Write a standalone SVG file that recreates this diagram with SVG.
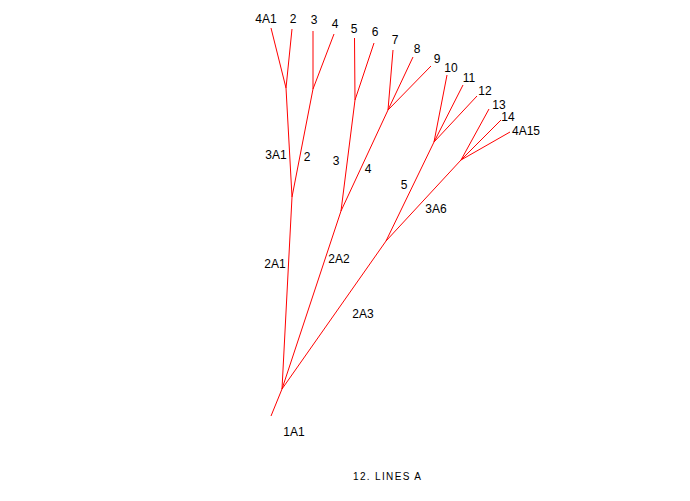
<svg xmlns="http://www.w3.org/2000/svg" width="690" height="501" viewBox="0 0 690 501">
<style>
.e{stroke:#ff0000;stroke-width:1;fill:none}
.t{font-family:"Liberation Sans Narrow","Liberation Sans",sans-serif;font-size:12px;fill:#000;text-anchor:middle}
.ti{font-family:"Liberation Sans",sans-serif;font-size:10px;fill:#000;text-anchor:middle}
</style>
<rect width="690" height="501" fill="#fff"/>
<g id="connectors">
<line class="e" x1="271" y1="416" x2="282" y2="389"/>
<line class="e" x1="282" y1="389" x2="292" y2="197"/>
<line class="e" x1="282" y1="389" x2="341" y2="211"/>
<line class="e" x1="282" y1="389" x2="386" y2="241"/>
<line class="e" x1="292" y1="197" x2="286" y2="88"/>
<line class="e" x1="292" y1="197" x2="313" y2="89"/>
<line class="e" x1="286" y1="88" x2="271" y2="28"/>
<line class="e" x1="286" y1="88" x2="292" y2="29"/>
<line class="e" x1="313" y1="89" x2="313" y2="31"/>
<line class="e" x1="313" y1="89" x2="334" y2="34"/>
<line class="e" x1="341" y1="211" x2="355" y2="100"/>
<line class="e" x1="341" y1="211" x2="388" y2="110"/>
<line class="e" x1="355" y1="100" x2="354.5" y2="38"/>
<line class="e" x1="355" y1="100" x2="374" y2="43"/>
<line class="e" x1="388" y1="110" x2="393" y2="50"/>
<line class="e" x1="388" y1="110" x2="413" y2="57"/>
<line class="e" x1="388" y1="110" x2="431" y2="66"/>
<line class="e" x1="386" y1="241" x2="434" y2="142"/>
<line class="e" x1="386" y1="241" x2="461" y2="160"/>
<line class="e" x1="434" y1="142" x2="447" y2="75"/>
<line class="e" x1="434" y1="142" x2="463" y2="85"/>
<line class="e" x1="434" y1="142" x2="477" y2="96"/>
<line class="e" x1="461" y1="160" x2="489" y2="109"/>
<line class="e" x1="461" y1="160" x2="501" y2="120"/>
<line class="e" x1="461" y1="160" x2="510" y2="132"/>
</g>
<g id="labels">
<text class="t" x="266" y="23">4A1</text>
<text class="t" x="293" y="23">2</text>
<text class="t" x="314" y="24">3</text>
<text class="t" x="335" y="28">4</text>
<text class="t" x="354" y="33">5</text>
<text class="t" x="375" y="36">6</text>
<text class="t" x="395" y="44">7</text>
<text class="t" x="417" y="53">8</text>
<text class="t" x="437" y="63">9</text>
<text class="t" x="451" y="72">10</text>
<text class="t" x="469" y="82">11</text>
<text class="t" x="485" y="95">12</text>
<text class="t" x="499" y="109">13</text>
<text class="t" x="508" y="121">14</text>
<text class="t" x="526" y="135">4A15</text>
<text class="t" x="276" y="159">3A1</text>
<text class="t" x="307" y="161">2</text>
<text class="t" x="336" y="165">3</text>
<text class="t" x="368" y="173">4</text>
<text class="t" x="404" y="189">5</text>
<text class="t" x="436" y="213">3A6</text>
<text class="t" x="275" y="268">2A1</text>
<text class="t" x="339" y="263">2A2</text>
<text class="t" x="363" y="318">2A3</text>
<text class="t" x="294" y="436">1A1</text>
<text class="ti" x="387" y="480" textLength="68" lengthAdjust="spacing">12. LINES A</text>
</g>
</svg>
